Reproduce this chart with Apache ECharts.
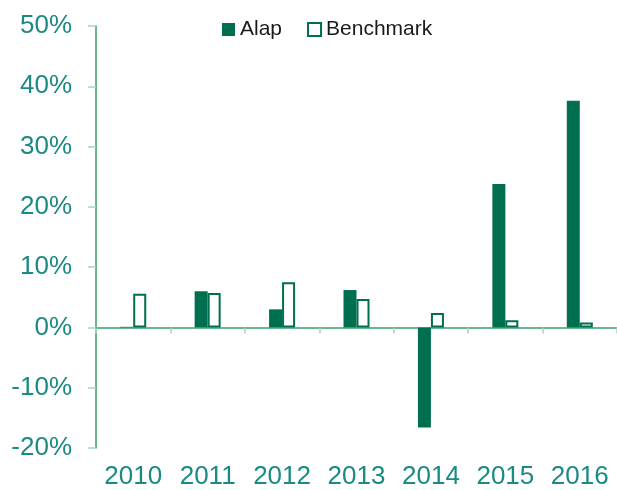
<!DOCTYPE html>
<html>
<head>
<meta charset="utf-8">
<script src="https://cdn.jsdelivr.net/npm/echarts@6/dist/echarts.min.js"></script>
<style>html,body{margin:0;padding:0;background:#fff;}#c{width:617px;height:490px;}</style>
</head>
<body>
<div id="c"></div>
<script>
var categories = ['2010', '2011', '2012', '2013', '2014', '2015', '2016'];
var alap = [0.1, 6.0, 3.0, 6.2, -16.6, 23.8, 37.6];
var benchmark = [5.6, 5.7, 7.5, 4.7, 2.4, 1.2, 0.8];
var yTicks = { min: -20, max: 50, interval: 10 };

var chart = echarts.init(document.getElementById('c'), null, { renderer: 'canvas' });
var dark = '#006f4f';
var axisGreen = '#3a9e6c';
var labelColor = '#1a8a82';
chart.setOption({
  animation: false,
  backgroundColor: '#ffffff',
  legend: {
    left: 222, top: 19, padding: 0, icon: 'rect',
    itemWidth: 13, itemHeight: 13, itemGap: 25,
    textStyle: { fontFamily: 'Liberation Sans', fontSize: 21, color: '#1a1a1a' },
    data: ['Alap', 'Benchmark']
  },
  grid: { left: 96, top: 26, bottom: 41, width: 524, containLabel: false },
  xAxis: [
    {
      type: 'category', data: categories, position: 'bottom',
      axisLine: { show: false, onZero: false }, axisTick: { show: false },
      axisLabel: { interval: 0, fontFamily: 'Liberation Sans', fontSize: 26, color: labelColor, margin: 16 }
    },
    {
      type: 'category', data: categories, position: 'bottom',
      axisLine: { show: true, onZero: true, lineStyle: { color: axisGreen, width: 1.5 } },
      axisTick: { show: true, length: 6, lineStyle: { color: '#a9d4bd', width: 1.5 } },
      axisLabel: { show: false }
    }
  ],
  yAxis: {
    type: 'value', min: yTicks.min, max: yTicks.max, interval: yTicks.interval,
    axisLine: { show: true, lineStyle: { color: axisGreen, width: 1.5 } },
    axisTick: { show: true, length: 8, lineStyle: { color: '#a9d4bd', width: 1.5 } },
    splitLine: { show: false },
    axisLabel: { formatter: '{value}%', fontFamily: 'Liberation Sans', fontSize: 26, color: labelColor, margin: 24 }
  },
  series: [
    {
      name: 'Alap', type: 'bar', data: alap, xAxisIndex: 0,
      barWidth: 13, barGap: '0%',
      itemStyle: { color: dark }
    },
    {
      name: 'Benchmark', type: 'bar', data: benchmark, xAxisIndex: 0,
      barWidth: 13, barGap: '0%',
      itemStyle: { color: '#ffffff', borderColor: dark, borderWidth: 2 }
    }
  ]
});
</script>
</body>
</html>
